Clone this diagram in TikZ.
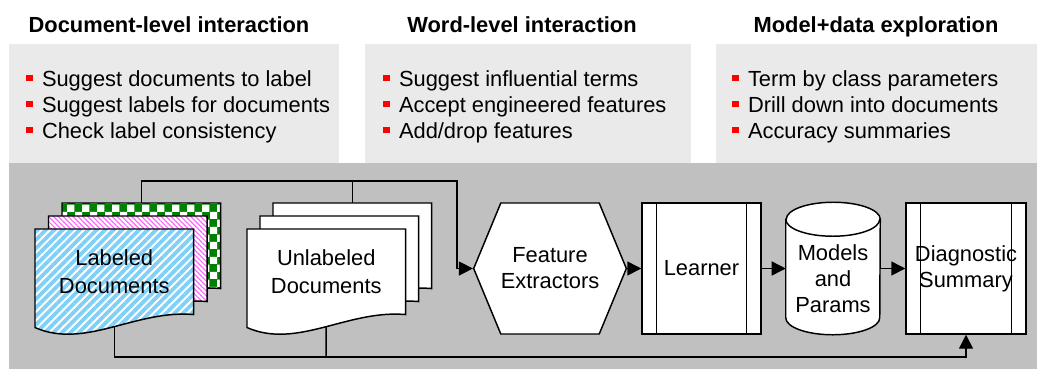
\documentclass[tikz,border=0pt]{standalone}
\usepackage{fontspec}
\setmainfont{Liberation Sans}
\usetikzlibrary{arrows.meta,shapes.symbols,patterns,patterns.meta}

\definecolor{panelgray}{HTML}{EAEAEA}
\definecolor{flowgray}{HTML}{C0C0C0}
\definecolor{bulred}{HTML}{FF0000}
\definecolor{hatchblue}{HTML}{7FD0F8}
\definecolor{hatchpink}{HTML}{FF66FF}
\definecolor{checkgreen}{HTML}{008000}

\newcommand{\rbul}{\textcolor{bulred}{\rule[3.8pt]{4.8pt}{4.8pt}}\hspace{7pt}}
\newcommand{\docoutline}[2]{%
  \draw[docline,#2] (#1.north west) -- (#1.north east) -- (#1.south east)
    .. controls +(-58,5) and +(50,-22) .. ([yshift=-9.75pt]#1.south west) -- cycle;}

\pgfdeclarelayer{panel}
\pgfdeclarelayer{wire}
\pgfdeclarelayer{outline}
\pgfsetlayers{panel,wire,outline,main}

\tikzset{
  txt/.style={font=\fontsize{16.4}{19.5}\selectfont, inner sep=0pt},
  heading/.style={txt, font=\bfseries\fontsize{16.4}{19.5}\selectfont, anchor=base},
  item/.style={txt, anchor=base west},
  docline/.style={line width=1.1pt},
  docnode/.style={txt, font=\fontsize{16.4}{21}\selectfont, align=center,
    minimum width=118.5pt, minimum height=63.75pt, anchor=north west},
  hexbox/.style={txt, align=center, draw, fill=white, line width=1.1pt,
    signal, signal to=west and east, signal pointer angle=135,
    minimum width=99pt, minimum height=98.25pt},
  procbox/.style={txt, align=center, draw, fill=white, line width=1.1pt,
    minimum width=#1, minimum height=98.25pt,
    path picture={\draw[line width=1.1pt]
      ([xshift=10.9pt]path picture bounding box.north west) -- ([xshift=10.9pt]path picture bounding box.south west)
      ([xshift=-10.9pt]path picture bounding box.north east) -- ([xshift=-10.9pt]path picture bounding box.south east);}},
  conn/.style={line width=1.1pt},
  flow/.style={conn, -{Triangle[length=10.5pt,width=10.5pt]}}
}

\begin{document}
\begin{tikzpicture}[x=0.75pt,y=0.75pt]
\useasboundingbox (0,0) rectangle (1037,-369);

% panels
\begin{pgfonlayer}{panel}
\fill[panelgray] (9,-44) rectangle (339,-163);
\fill[panelgray] (365,-44) rectangle (691,-163);
\fill[panelgray] (716,-44) rectangle (1037,-163);
\fill[flowgray] (9,-163) rectangle (1037,-369);
\end{pgfonlayer}

% interaction lists
\node[heading] (hdoc) at (169,-32) {Document-level interaction};
\node[heading] (hword) at (522,-32) {Word-level interaction};
\node[heading] (hmodel) at (876,-32) {Model+data exploration};
\foreach \t [count=\i] in {Suggest documents to label, Suggest labels for documents, Check label consistency}
  \node[item] (dl\i) at (26,-60-26*\i) {\rbul\t};
\foreach \t [count=\i] in {Suggest influential terms, Accept engineered features, {Add/drop features}}
  \node[item] (wl\i) at (383,-60-26*\i) {\rbul\t};
\foreach \t [count=\i] in {Term by class parameters, Drill down into documents, Accuracy summaries}
  \node[item] (me\i) at (732,-60-26*\i) {\rbul\t};

% document stacks
\node[docnode] (lab3) at (62,-203) {};
\node[docnode] (lab2) at (48.5,-216) {};
\node[docnode] (lab) at (35,-229) {Labeled\\Documents};
\node[docnode] (unl3) at (273,-203) {};
\node[docnode] (unl2) at (260,-216) {};
\node[docnode] (unl) at (247,-229) {Unlabeled\\Documents};
\begin{pgfonlayer}{outline}
\docoutline{lab3}{preaction={fill=checkgreen}, pattern=checkerboard, pattern color=white}
\docoutline{lab2}{preaction={fill=white}, pattern={Lines[angle=-45,distance=2.6pt,line width=0.9pt]}, pattern color=hatchpink}
\docoutline{lab}{preaction={fill=white}, pattern={Lines[angle=45,distance=4.5pt,line width=2.8pt]}, pattern color=hatchblue}
\docoutline{unl3}{fill=white}
\docoutline{unl2}{fill=white}
\docoutline{unl}{fill=white}
\end{pgfonlayer}

% pipeline
\node[hexbox] (fe) at (550,-268.5) {Feature\\Extractors};
\node[procbox=89.25pt] (lrn) at (701.5,-268.5) {Learner};
\node[txt, minimum width=70.5pt, minimum height=99pt] (mp) at (833,-268.5) {};
\node[txt, align=center] (mptext) at ([yshift=-7.5pt]mp.center) {Models\\and\\Params};
\node[procbox=90pt] (diag) at (966,-268.5) {Diagnostic\\Summary};
\begin{pgfonlayer}{outline}
\draw[docline, fill=white] ([yshift=-12.75pt]mp.north west) -- ([yshift=12.75pt]mp.south west)
  arc[start angle=180, end angle=360, x radius=35.25pt, y radius=12.75pt]
  -- ([yshift=-12.75pt]mp.north east)
  arc[start angle=0, end angle=180, x radius=35.25pt, y radius=12.75pt] -- cycle;
\draw[docline] ([yshift=-12.75pt]mp.north west)
  arc[start angle=180, end angle=360, x radius=35.25pt, y radius=12.75pt];
\end{pgfonlayer}

\draw[flow] (fe.east) -- (lrn.west);
\draw[flow] (lrn.east) -- (mp.west);
\draw[flow] (mp.east) -- (diag.west);

% connectors
\coordinate (topbus) at (457,-181);
\coordinate (botbus) at (326,-357);
\begin{pgfonlayer}{wire}
\draw[flow] (lab3.north) |- (topbus) |- (fe.west);
\draw[conn] (unl3.north) -- (unl3.north |- topbus);
\draw[flow] (lab.south) |- (botbus) -| (diag.south);
\draw[conn] (unl.south) -- (botbus);
\end{pgfonlayer}
\end{tikzpicture}
\end{document}
